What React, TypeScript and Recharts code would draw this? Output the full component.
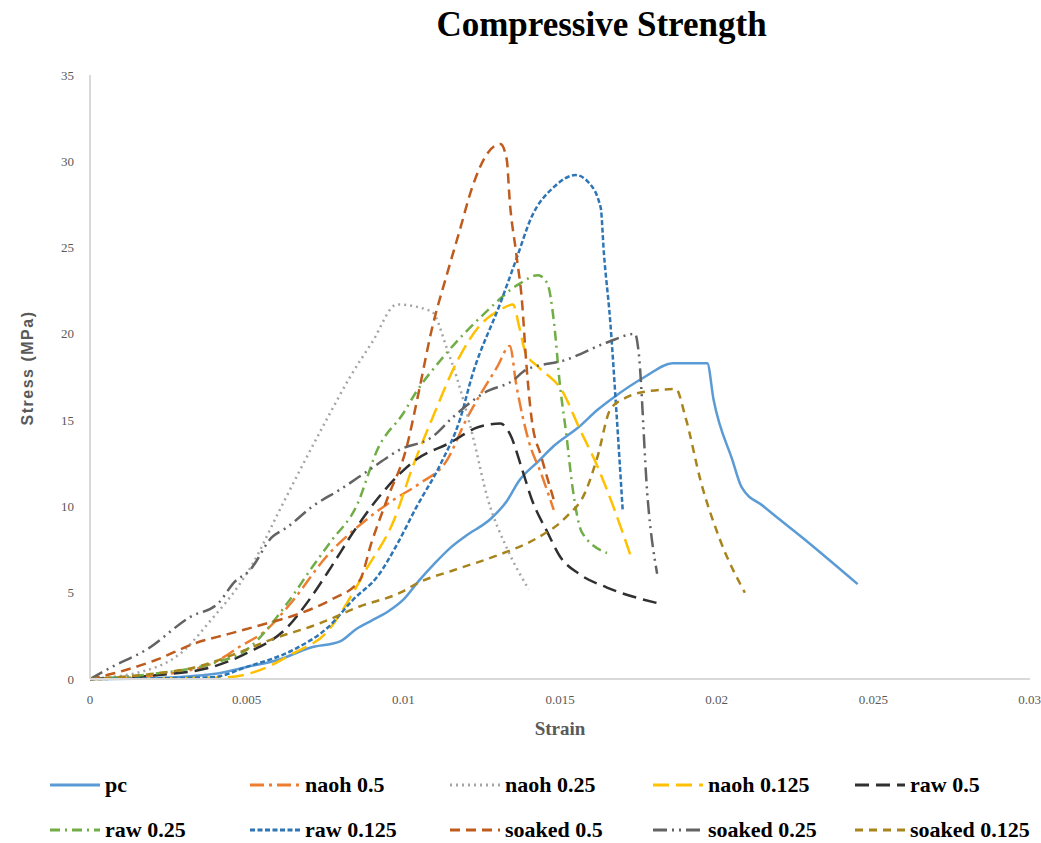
import { Line, LineChart, XAxis, YAxis } from "recharts";

type Pt = { x: number; y: number };

const pts = (rows: number[][]): Pt[] => rows.map(([x, y]) => ({ x, y }));

// strain (x) vs stress in MPa (y)
const pc = pts([
  [0, 0], [0.002, 0.05], [0.004, 0.3], [0.005, 0.7], [0.006, 1.1], [0.007, 1.8], [0.008, 2.2],
  [0.0085, 2.9], [0.009, 3.4], [0.0095, 3.9], [0.01, 4.6], [0.0105, 5.7], [0.011, 6.7],
  [0.0115, 7.6], [0.012, 8.3], [0.0128, 9.3], [0.0133, 10.3], [0.0137, 11.5], [0.0143, 12.6],
  [0.0148, 13.5], [0.0156, 14.6], [0.0162, 15.6], [0.0167, 16.3], [0.0177, 17.5], [0.0186, 18.3],
  [0.0197, 18.3], [0.0199, 16.2], [0.0205, 12.7], [0.0208, 11.1], [0.0215, 10.0], [0.0228, 8.1],
  [0.0245, 5.5],
]);
const naoh05 = pts([
  [0, 0], [0.002, 0.2], [0.0039, 0.9], [0.0048, 1.9], [0.0056, 2.8], [0.0065, 4.6], [0.0075, 7],
  [0.0088, 9.2], [0.0097, 10.4], [0.0105, 11.3], [0.0114, 12.7], [0.012, 15], [0.013, 18.1],
  [0.0134, 19.3], [0.0136, 17.1], [0.014, 13.8], [0.0144, 11.9], [0.0148, 9.8],
]);
const naoh025 = pts([
  [0, 0], [0.0018, 0.5], [0.0029, 1.5], [0.0039, 3.5], [0.0047, 5.3], [0.0052, 6.7], [0.006, 9.6],
  [0.0067, 12.1], [0.0076, 15.2], [0.0083, 17.5], [0.009, 19.5], [0.0098, 21.7], [0.0109, 21.3],
  [0.0114, 19.1], [0.0117, 17.5], [0.0122, 14.2], [0.0127, 10.4], [0.0133, 7.6], [0.014, 5.2],
]);
const naoh0125 = pts([
  [0, 0], [0.003, 0.05], [0.0044, 0.1], [0.0054, 0.5], [0.0065, 1.5], [0.0076, 2.8], [0.0082, 4.4],
  [0.0088, 6.3], [0.0097, 9.2], [0.0103, 12.3], [0.0109, 15], [0.0118, 18.7], [0.0124, 20.4],
  [0.0131, 21.4], [0.0135, 21.7], [0.0137, 20.4], [0.0139, 18.9], [0.0143, 18.1], [0.0151, 16.6],
  [0.0156, 14.6], [0.0162, 12.3], [0.0167, 10], [0.0173, 6.9],
]);
const raw05 = pts([
  [0, 0], [0.002, 0.2], [0.0039, 0.7], [0.005, 1.5], [0.0063, 3.0], [0.007, 4.6], [0.0077, 6.5],
  [0.0084, 8.5], [0.0092, 10.5], [0.0104, 12.7], [0.0115, 13.7], [0.0124, 14.6], [0.0131, 14.8],
  [0.0134, 14.2], [0.0138, 12.1], [0.0141, 10.4], [0.0146, 8.5], [0.015, 7.1], [0.0156, 6.1],
  [0.0165, 5.3], [0.0181, 4.4],
]);
const raw025 = pts([
  [0, 0], [0.002, 0.3], [0.0039, 0.9], [0.005, 1.7], [0.0063, 4.4], [0.0071, 6.5], [0.0077, 8],
  [0.0085, 10], [0.0092, 13.4], [0.01, 15.4], [0.0104, 16.6], [0.0112, 18.5], [0.0126, 21.2],
  [0.0137, 22.9], [0.0143, 23.4], [0.0146, 22.9], [0.0148, 20.8], [0.015, 17], [0.0152, 14.2],
  [0.0154, 11.1], [0.0157, 8.5], [0.0165, 7.3],
]);
const raw0125 = pts([
  [0, 0], [0.0039, 0.1], [0.005, 0.7], [0.0065, 1.7], [0.0076, 3.0], [0.0084, 4.6], [0.0092, 6.0],
  [0.0098, 7.8], [0.0104, 9.9], [0.0112, 12.5], [0.0118, 15], [0.0122, 17.6], [0.0131, 21.8],
  [0.0136, 24.3], [0.0141, 26.8], [0.0148, 28.5], [0.0155, 29.2], [0.0159, 28.8], [0.0163, 27.3],
  [0.0164, 24.7], [0.0166, 20.8], [0.0168, 15.5], [0.017, 9.8],
]);
const soaked05 = pts([
  [0, 0], [0.0007, 0.3], [0.0021, 1.1], [0.0034, 2.1], [0.0044, 2.6], [0.0056, 3.2], [0.0067, 3.8],
  [0.0077, 4.6], [0.0086, 5.7], [0.009, 8], [0.0095, 10.5], [0.0101, 13.4], [0.0105, 16.7],
  [0.0109, 20.2], [0.0114, 23.5], [0.0118, 26], [0.0122, 28.5], [0.0127, 30.5], [0.0131, 31],
  [0.0133, 30.1], [0.0134, 27.6], [0.0136, 24.7], [0.0138, 21.6], [0.0139, 18.9], [0.0141, 15],
  [0.0144, 12.9], [0.0148, 10.4],
]);
const soaked025 = pts([
  [0, 0], [0.0007, 0.7], [0.0018, 1.7], [0.0032, 3.6], [0.0041, 4.4], [0.0046, 5.6], [0.0051, 6.3],
  [0.0058, 8.2], [0.0063, 8.8], [0.0071, 10], [0.008, 11], [0.0089, 12.1], [0.0099, 13.3],
  [0.0109, 14], [0.0116, 15.2], [0.0126, 16.6], [0.0135, 17.3], [0.0139, 17.9], [0.0152, 18.5],
  [0.0165, 19.5], [0.0174, 20], [0.0175, 19.1], [0.0178, 10.4], [0.0181, 6.1],
]);
const soaked0125 = pts([
  [0, 0], [0.002, 0.3], [0.0034, 0.7], [0.0047, 1.5], [0.0058, 2.3], [0.0073, 3.2], [0.0086, 4.2],
  [0.0099, 5.0], [0.0105, 5.6], [0.0116, 6.3], [0.0132, 7.3], [0.0142, 8.1], [0.0152, 9.4],
  [0.0158, 10.8], [0.0162, 12.9], [0.0166, 15.6], [0.0171, 16.3], [0.0179, 16.7], [0.0187, 16.8],
  [0.019, 15.2], [0.0195, 11.4], [0.0201, 8.1], [0.0209, 5.0],
]);

const xTicks = [0, 0.005, 0.01, 0.015, 0.02, 0.025, 0.03];
const yTicks = [0, 5, 10, 15, 20, 25, 30, 35];

const series = [
  { name: "pc", data: pc, color: "#5B9BD5", dash: undefined as string | undefined },
  { name: "naoh 0.5", data: naoh05, color: "#ED7D31", dash: "14 5 3 5" },
  { name: "naoh 0.25", data: naoh025, color: "#A5A5A5", dash: "2 4" },
  { name: "naoh 0.125", data: naoh0125, color: "#FFC000", dash: "16 7" },
  { name: "raw 0.5", data: raw05, color: "#303030", dash: "14 7" },
  { name: "raw 0.25", data: raw025, color: "#70AD47", dash: "10 5 2 5" },
  { name: "raw 0.125", data: raw0125, color: "#2E75B6", dash: "5 2.5" },
  { name: "soaked 0.5", data: soaked05, color: "#BF5B1C", dash: "10 6" },
  { name: "soaked 0.25", data: soaked025, color: "#636363", dash: "14 5 2 5 2 5" },
  { name: "soaked 0.125", data: soaked0125, color: "#A8841C", dash: "8 6" },
];

const legendCols = [50, 250, 450, 653, 855];

export default function App() {
  return (
    <div style={{ position: "relative", width: 1041, height: 843, background: "#fff" }}>
      <style>{"body{margin:0}"}</style>
      <div
        style={{
          position: "absolute",
          left: 0,
          top: 5,
          width: 1203,
          textAlign: "center",
          fontFamily: "'Liberation Serif', serif",
          fontWeight: 700,
          fontSize: 35,
          color: "#000",
        }}
      >
        Compressive Strength
      </div>
      <LineChart width={1041} height={843} margin={{ top: 75, right: 11, left: 50, bottom: 114 }}>
        <XAxis
          type="number"
          dataKey="x"
          domain={[0, 0.03]}
          ticks={xTicks}
          height={50}
          tickLine={false}
          axisLine={{ stroke: "#d9d9d9", strokeWidth: 2 }}
          tick={{ fontSize: 13, fill: "#595959", fontFamily: "'Liberation Serif', serif" }}
          tickMargin={10}
        />
        <YAxis
          type="number"
          dataKey="y"
          domain={[0, 35]}
          ticks={yTicks}
          width={40}
          tickLine={false}
          axisLine={{ stroke: "#d9d9d9", strokeWidth: 2 }}
          tick={{ fontSize: 13, fill: "#595959", fontFamily: "'Liberation Serif', serif" }}
          tickMargin={10}
        />
        {series.map((s) => (
          <Line
            key={s.name}
            data={s.data}
            dataKey="y"
            name={s.name}
            type="monotone"
            stroke={s.color}
            strokeWidth={2.5}
            strokeDasharray={s.dash}
            dot={false}
            isAnimationActive={false}
          />
        ))}
      </LineChart>
      <div
        style={{
          position: "absolute",
          left: 90,
          width: 940,
          top: 718,
          textAlign: "center",
          fontFamily: "'Liberation Serif', serif",
          fontWeight: 700,
          fontSize: 19,
          color: "#595959",
        }}
      >
        Strain
      </div>
      <div
        style={{
          position: "absolute",
          left: 28,
          top: 368,
          transform: "translate(-50%, -50%) rotate(-90deg)",
          whiteSpace: "nowrap",
          fontFamily: "'Liberation Sans', sans-serif",
          fontWeight: 700,
          fontSize: 16,
          letterSpacing: 1.5,
          color: "#595959",
        }}
      >
        Stress (MPa)
      </div>
      {series.map((s, i) => {
        const col = i % 5;
        const row = Math.floor(i / 5);
        return (
          <div
            key={s.name}
            style={{
              position: "absolute",
              left: legendCols[col],
              top: 772 + row * 45,
              display: "flex",
              alignItems: "center",
              fontFamily: "'Liberation Serif', serif",
              fontWeight: 700,
              fontSize: 22,
              color: "#000",
              whiteSpace: "nowrap",
            }}
          >
            <svg width={52} height={12} style={{ marginRight: 3 }}>
              <line
                x1={0}
                y1={6}
                x2={50}
                y2={6}
                stroke={s.color}
                strokeWidth={3}
                strokeDasharray={s.dash}
              />
            </svg>
            {s.name}
          </div>
        );
      })}
    </div>
  );
}
